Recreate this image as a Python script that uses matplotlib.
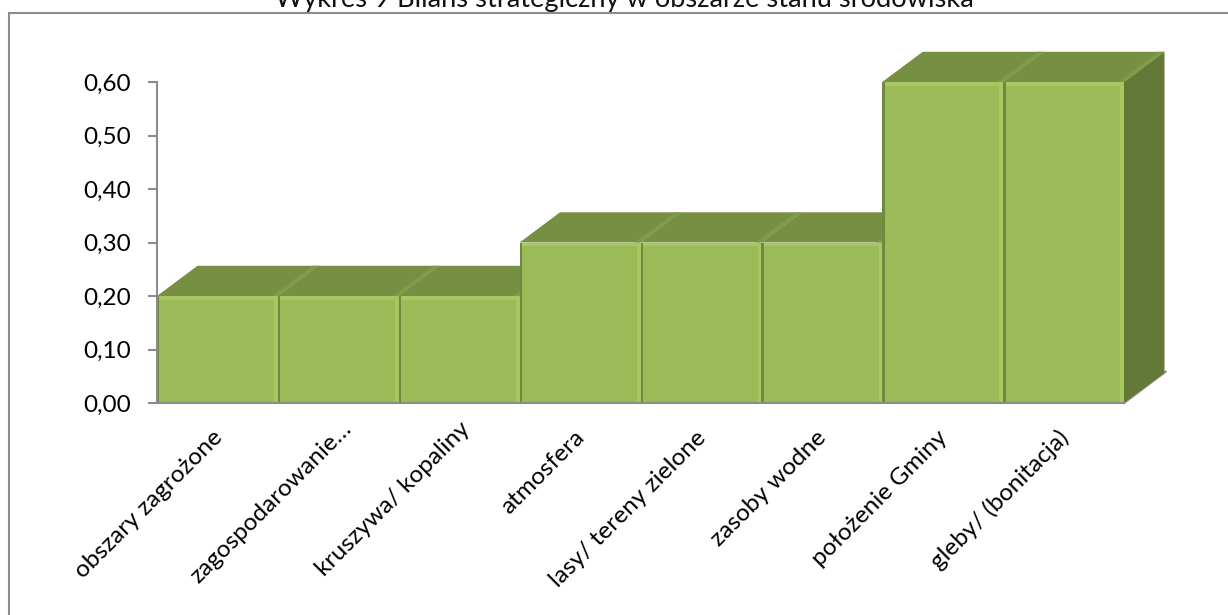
import matplotlib
matplotlib.use("Agg")
import matplotlib.pyplot as plt
from matplotlib.patches import Polygon, Rectangle
from matplotlib.lines import Line2D

W, H = 1228, 615
categories = ["obszary zagrożone", "zagospodarowanie…", "kruszywa/ kopaliny", "atmosfera",
              "lasy/ tereny zielone", "zasoby wodne", "położenie Gminy", "gleby/ (bonitacja)"]
values = [0.20, 0.20, 0.20, 0.30, 0.30, 0.30, 0.60, 0.60]
yticks = [0.0, 0.1, 0.2, 0.3, 0.4, 0.5, 0.6]
title = "Wykres 9 Bilans strategiczny w obszarze stanu środowiska"

FRONT, TOP, SIDE = "#9BBB59", "#768F42", "#647837"
LIGHT, DARK, GREY = "#A6C85E", "#6F8A40", "#8C8C8C"
DX, DY = 0.335, 0.0565  # depth of the 3-D box, in data units
LABEL_NUDGE = {1: (6, 6), 2: (4, 6)}  # points; these two labels sit further along their slant

plt.rcParams['font.family'] = ['Lato', 'DejaVu Sans']
fig = plt.figure(figsize=(W / 100, H / 100), dpi=100)
fig.add_artist(Rectangle((8.5 / W, -0.02), 1.1, (H - 13) / H + 0.02, transform=fig.transFigure,
                         fill=False, ec=GREY, lw=1.5))
fig.text(624 / W, 1 - 7 / H, title, ha="center", va="baseline", fontsize=19.6, color="#111111")

ax = fig.add_axes([157 / W, 1 - 403 / H, (1124 - 157) / W, (403 - 82) / H])
ax.set_xlim(0, len(values))
ax.set_ylim(0, 0.6)
ax.patch.set_visible(False)
for s in ("top", "right"):
    ax.spines[s].set_visible(False)
for s in ("left", "bottom"):
    ax.spines[s].set_color(GREY)
    ax.spines[s].set_linewidth(1.5)
    ax.spines[s].set_zorder(6)

n = len(values)
# floor edge at the right
ax.add_line(Line2D([n, n + DX + 0.01], [0, DY + 0.002], color=GREY, lw=1.5, clip_on=False, zorder=1))
# right side of the last bar
ax.add_patch(Polygon([(n, 0), (n + DX, DY), (n + DX, values[-1] + DY), (n, values[-1])],
                     fc=SIDE, ec="none", clip_on=False, zorder=2))
# tops, left to right
for i, v in enumerate(values):
    ax.add_patch(Polygon([(i, v), (i + DX, v + DY), (i + 1 + DX, v + DY), (i + 1, v)],
                         fc=TOP, ec="none", clip_on=False, zorder=2))
    # lighter bevel on the right edge of the top
    ax.add_patch(Polygon([(i + 0.95, v), (i + 0.95 + DX, v + DY), (i + 1 + DX, v + DY), (i + 1, v)],
                         fc="#7F9B48", ec="none", clip_on=False, zorder=2.1))
# taller bars hide what lies behind them
ax.bar(range(n), values, width=1.0, align="edge", color=FRONT, zorder=3, clip_on=False)
for i, v in enumerate(values):
    ax.add_patch(Rectangle((i, v - 0.007), 1, 0.007, fc=LIGHT, ec="none", zorder=3.2))
    ax.add_patch(Rectangle((i + 0.97, 0), 0.03, v, fc=LIGHT, ec="none", zorder=3.2))
    ax.add_patch(Rectangle((i, 0), 0.02, v, fc=DARK, ec="none", zorder=3.3))

ax.set_yticks(yticks)
ax.set_yticklabels([f"{t:.2f}".replace(".", ",") for t in yticks], fontsize=17.5, color="black")
ax.tick_params(axis="y", length=6.5, width=1.5, color=GREY, pad=12)
ax.set_xticks([i + 0.5 for i in range(n)])
ax.set_xticklabels([])
ax.tick_params(axis="x", length=0)
for i, c in enumerate(categories):
    nx, ny = LABEL_NUDGE.get(i, (0, 0))
    ax.annotate(c, xy=(i + 0.52, 0), xytext=(-6 + nx, -17 + ny), textcoords="offset points",
                rotation=45, rotation_mode="anchor", ha="right", va="top",
                fontsize=17.6, color="black", annotation_clip=False)

fig.savefig("out.png", dpi=100, facecolor="white")
